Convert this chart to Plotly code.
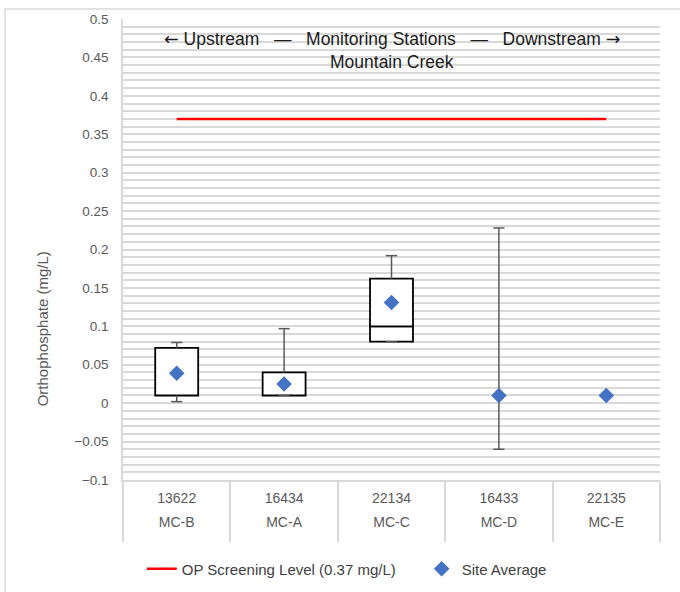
import plotly.graph_objects as go

# ---- data ----
station_ids = ["13622", "16434", "22134", "16433", "22135"]
site_codes = ["MC-B", "MC-A", "MC-C", "MC-D", "MC-E"]
q1 = [0.01, 0.01, 0.08, 0.01, 0.01]
median = [0.01, 0.01, 0.10, 0.01, 0.01]
q3 = [0.072, 0.04, 0.162, 0.01, 0.01]
whisker_low = [0.002, 0.01, 0.08, -0.06, 0.01]
whisker_high = [0.079, 0.097, 0.192, 0.228, 0.01]
site_avg = [0.039, 0.025, 0.131, 0.01, 0.01]
screening_level = [0.37, 0.37, 0.37, 0.37, 0.37]

FONT = "Liberation Sans"
GRID = "#d9d9d9"
WHISK = "#595959"
n = len(station_ids)
sp = "\u00a0"


def seg(top, bottom):
    return [(t - b) if (t - b) > 0 else None for t, b in zip(top, bottom)]


fig = go.Figure()

# boxes: lower (q1->median) and upper (median->q3) segments
for base, h in ((q1, seg(median, q1)), (median, seg(q3, median))):
    fig.add_trace(go.Bar(
        x=station_ids, base=base, y=h,
        width=0.4, marker=dict(color="white", line=dict(color="black", width=1.8)),
        showlegend=False, hoverinfo="skip"))

# whiskers
for i in range(n):
    for ya, yb in ((q3[i], whisker_high[i]), (whisker_low[i], q1[i])):
        fig.add_trace(go.Scatter(
            x=[station_ids[i], station_ids[i]], y=[ya, yb], mode="lines",
            line=dict(color=WHISK, width=1.5),
            showlegend=False, hoverinfo="skip"))

# whisker caps
for yy in (whisker_high, whisker_low):
    fig.add_trace(go.Scatter(
        x=station_ids, y=yy, mode="markers",
        marker=dict(symbol="line-ew", size=8, line=dict(color=WHISK, width=1.5)),
        showlegend=False, hoverinfo="skip"))

# screening level
fig.add_trace(go.Scatter(
    x=station_ids, y=screening_level, mode="lines",
    line=dict(color="#ff0000", width=2.5),
    name="OP Screening Level (0.37 mg/L)" + sp * 5))

# site average
fig.add_trace(go.Scatter(
    x=station_ids, y=site_avg, mode="markers",
    marker=dict(symbol="diamond", size=12, color="#4472c4"),
    name="Site Average"))

# empty traces so the label axes exist
for ax in ("x2", "x3"):
    fig.add_trace(go.Scatter(x=[], y=[], xaxis=ax, showlegend=False, hoverinfo="skip"))

arr = lambda a: f"<span style='font-family:DejaVu Sans'>{a}</span>"
fig.add_annotation(
    text=f"{arr('←')}{sp}Upstream{sp*3}—{sp*3}Monitoring Stations{sp*3}—{sp*3}Downstream{sp}{arr('→')}",
    xref="paper", yref="paper", x=0.5, y=(480 - 35) / 465,
    showarrow=False, yanchor="middle",
    font=dict(family=FONT, size=17.5, color="#1a1a1a"))
fig.add_annotation(
    text="Mountain Creek",
    xref="paper", yref="paper", x=0.5, y=(480 - 58) / 465,
    showarrow=False, yanchor="middle",
    font=dict(family=FONT, size=17.5, color="#1a1a1a"))
fig.add_annotation(
    text="Orthophosphate (mg/L)",
    xref="paper", yref="paper", x=(42 - 123) / 537, y=(480 - 328) / 465,
    showarrow=False, textangle=-90, xanchor="center", yanchor="middle",
    font=dict(family=FONT, size=15, color="#595959"))

# outer chart border
fig.add_shape(type="rect", xref="paper", yref="paper",
              x0=(5 - 123) / 537, x1=(700 - 123) / 537,
              y0=(480 - 620) / 465, y1=(480 - 5) / 465,
              line=dict(color=GRID, width=1.5), fillcolor="rgba(0,0,0,0)", layer="below")

xr = [-0.5, n - 0.5]
label_axis = dict(overlaying="x", anchor="y", side="bottom", type="linear", range=xr,
                  tickvals=list(range(n)), ticks="", showgrid=False, zeroline=False,
                  showline=False, tickfont=dict(family=FONT, size=14, color="#595959"))

fig.update_layout(
    width=680, height=592,
    margin=dict(l=123, r=20, t=15, b=112),
    paper_bgcolor="white", plot_bgcolor="white",
    barmode="overlay",
    font=dict(family=FONT, size=13, color="#595959"),
    legend=dict(orientation="h", xref="container", yref="container",
                x=0.51, xanchor="center", y=(592 - 569) / 592, yanchor="middle",
                font=dict(family=FONT, size=15, color="#404040")),
    xaxis=dict(type="category", categoryarray=station_ids, range=xr,
               showline=True, linecolor=GRID, linewidth=1.5,
               tickson="boundaries", ticks="outside", ticklen=60, tickwidth=1.5, tickcolor=GRID,
               showticklabels=False, showgrid=False),
    xaxis2=dict(label_axis, ticktext=station_ids, ticklabelstandoff=8),
    xaxis3=dict(label_axis, ticktext=site_codes, ticklabelstandoff=32),
    yaxis=dict(range=[-0.1, 0.5], dtick=0.05, showgrid=True, gridcolor=GRID, gridwidth=1.5,
               minor=dict(dtick=0.01, showgrid=True, gridcolor=GRID, gridwidth=1.5),
               zeroline=False, showline=True, linecolor=GRID, linewidth=1.5,
               ticks="", ticklabelstandoff=10,
               tickfont=dict(family=FONT, size=13.5, color="#595959")),
)

fig.write_html("out.html", config={"displayModeBar": False},
               post_script="document.body.style.margin='0';")
